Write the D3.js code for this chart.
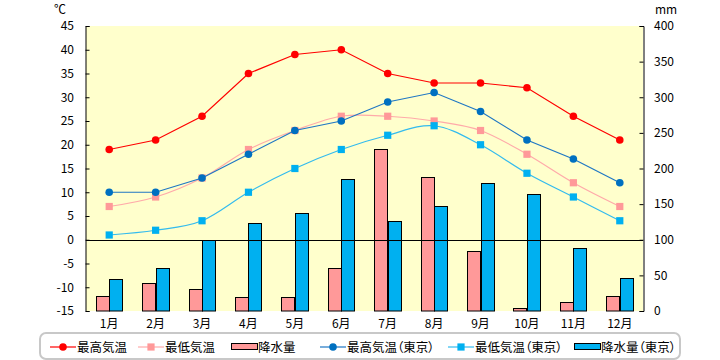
<!DOCTYPE html>
<html><head><meta charset="utf-8">
<script src="https://cdn.jsdelivr.net/npm/d3@7"></script>
<style>
html,body{margin:0;padding:0;background:#fff;}
svg text{font-family:"Noto Sans CJK JP","Noto Sans",sans-serif;font-feature-settings:"palt";}
</style></head>
<body><svg id="c" width="720" height="360"></svg>
<script>
const months = ["1月","2月","3月","4月","5月","6月","7月","8月","9月","10月","11月","12月"];
const maxTemp = [19,21,26,35,39,40,35,33,33,32,26,21];
const minTemp = [7,9,13,19,23,26,26,25,23,18,12,7];
const precip = [21,39,31,19,19,60,228,188,84,4,12,21];
const maxTempTokyo = [10,10,13,18,23,25,29,31,27,21,17,12];
const minTempTokyo = [1,2,4,10,15,19,22,24,20,14,9,4];
const precipTokyo = [45,60,100,124,137,185,126,147,179,164,88,46];
const tempTicks = d3.range(-15,46,5);
const mmTicks = d3.range(0,401,50);
const legendLabels = ["最高気温","最低気温","降水量","最高気温（東京）","最低気温（東京）","降水量（東京）"];

const svg = d3.select("#c");
const L=86, R=643, T=26, B=311;
const x = d3.scaleBand().domain(months).range([L,R]).paddingInner(0.42).paddingOuter(0.21);
const xs = d3.scaleBand().domain([0,1]).range([0,x.bandwidth()]);
const yT = d3.scaleLinear().domain([-15,45]).range([B,T]);
const yP = d3.scaleLinear().domain([0,400]).range([B,T]);
const cx = m => x(m)+x.bandwidth()/2;

svg.append("rect").attr("x",L).attr("y",T).attr("width",R-L).attr("height",B-T).attr("fill","#ffffcc");

// bars
const barSeries = [{v:precip,fill:"#ff9999"},{v:precipTokyo,fill:"#00b0f0"}];
barSeries.forEach((s,si)=>{
  svg.append("g").selectAll("rect").data(months).join("rect")
    .attr("x",(m)=>Math.round(x(m)+xs(si))+0.5)
    .attr("y",(m,i)=>Math.round(yP(s.v[i]))+0.5)
    .attr("width",Math.round(xs.bandwidth()))
    .attr("height",(m,i)=>Math.max(0,Math.round(B-yP(s.v[i]))-0.5))
    .attr("fill",s.fill).attr("stroke","#000").attr("stroke-width",1);
});

// zero line
svg.append("line").attr("x1",L).attr("x2",R).attr("y1",Math.round(yT(0))+0.5).attr("y2",Math.round(yT(0))+0.5)
  .attr("stroke","#000").attr("stroke-width",1);

// axes
const axL = svg.append("g").attr("transform",`translate(${L-0.5},0)`)
  .call(d3.axisRight(yT).tickValues(tempTicks).tickSize(4).tickFormat(""));
const axR = svg.append("g").attr("transform",`translate(${R+0.5},0)`)
  .call(d3.axisLeft(yP).tickValues(mmTicks).tickSize(4).tickFormat(""));
[axL,axR].forEach(a=>{a.select(".domain").attr("stroke","#000");a.selectAll("line").attr("stroke","#000");});

svg.append("g").selectAll("text").data(tempTicks).join("text")
  .attr("x",74).attr("y",d=>yT(d)).attr("dy","0.36em").attr("text-anchor","end")
  .attr("font-size",12).attr("fill","#000").text(d=>d);
svg.append("g").selectAll("text").data(mmTicks).join("text")
  .attr("x",654).attr("y",d=>yP(d)).attr("dy","0.36em").attr("text-anchor","start")
  .attr("font-size",12).attr("fill","#000").text(d=>d);
svg.append("g").selectAll("text").data(months).join("text")
  .attr("x",d=>cx(d)).attr("y",324).attr("dy","0.36em").attr("text-anchor","middle")
  .attr("font-size",12).attr("fill","#000").text(d=>d);
svg.append("text").attr("x",60).attr("y",10).attr("dy","0.36em").attr("text-anchor","middle").attr("font-size",12).text("℃");
svg.append("text").attr("x",666).attr("y",10).attr("dy","0.36em").attr("text-anchor","middle").attr("font-size",12).text("mm");

// lines
const lineSeries = [
  {v:maxTemp,color:"#ff0000",mcolor:"#ff0000",shape:"circle",curve:d3.curveLinear},
  {v:minTemp,color:"#ffaaaa",mcolor:"#ff9999",shape:"square",curve:d3.curveCardinal},
  {v:maxTempTokyo,color:"#1f77c4",mcolor:"#0070c0",shape:"circle",curve:d3.curveLinear},
  {v:minTempTokyo,color:"#33bbee",mcolor:"#00b0f0",shape:"square",curve:d3.curveCardinal}
];
const order=[1,3,2,0];
order.forEach(k=>{
  const s=lineSeries[k];
  const line=d3.line().x((d,i)=>cx(months[i])).y(d=>yT(d)).curve(s.curve);
  svg.append("path").datum(s.v).attr("d",line).attr("fill","none").attr("stroke",s.color).attr("stroke-width",1.2);
  const g=svg.append("g");
  if(s.shape==="circle"){
    g.selectAll("circle").data(s.v).join("circle").attr("cx",(d,i)=>cx(months[i])).attr("cy",d=>yT(d)).attr("r",3.8).attr("fill",s.mcolor);
  } else {
    g.selectAll("rect").data(s.v).join("rect").attr("x",(d,i)=>cx(months[i])-3.6).attr("y",d=>yT(d)-3.6).attr("width",7.2).attr("height",7.2).attr("fill",s.mcolor);
  }
});

// legend
svg.append("rect").attr("x",40).attr("y",333).attr("width",640).attr("height",26).attr("rx",6)
  .attr("fill","#fff").attr("stroke","#c8c8c8").attr("stroke-width",2);
const lx=[50,138,231,320,448,574];
const ly=347;
const legendStyle=[
  {type:"line",s:lineSeries[0]},{type:"line",s:lineSeries[1]},{type:"bar",fill:"#ff9999"},
  {type:"line",s:lineSeries[2]},{type:"line",s:lineSeries[3]},{type:"bar",fill:"#00b0f0"}
];
legendLabels.forEach((lab,i)=>{
  const st=legendStyle[i], x0=lx[i];
  if(st.type==="line"){
    svg.append("line").attr("x1",x0).attr("x2",x0+26).attr("y1",ly).attr("y2",ly).attr("stroke",st.s.color).attr("stroke-width",1.2);
    if(st.s.shape==="circle") svg.append("circle").attr("cx",x0+13).attr("cy",ly).attr("r",3.8).attr("fill",st.s.mcolor);
    else svg.append("rect").attr("x",x0+13-3.6).attr("y",ly-3.6).attr("width",7.2).attr("height",7.2).attr("fill",st.s.mcolor);
  } else {
    svg.append("rect").attr("x",x0+0.5).attr("y",343.5).attr("width",26).attr("height",6).attr("fill",st.fill).attr("stroke","#000").attr("stroke-width",1);
  }
  svg.append("text").attr("x",x0+27).attr("y",ly).attr("dy","0.36em").attr("font-size",12.5).attr("fill","#000").text(lab);
});
</script></body></html>
